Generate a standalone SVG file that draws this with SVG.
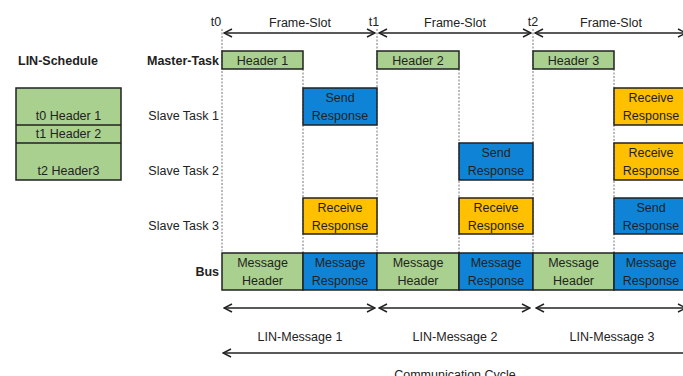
<svg xmlns="http://www.w3.org/2000/svg" width="683" height="376" viewBox="0 0 683 376">
  <defs>
    <style>
      text { font-family: "Liberation Sans", Arial, sans-serif; font-size: 12.5px; fill: #222; }
      .b { font-weight: bold; }
      .c { text-anchor: middle; }
      .r { text-anchor: end; }
      .box { stroke: #222; stroke-width: 1.5; }
      .hdr { fill: #A9D08E; }
      .snd { fill: #0F84D6; }
      .rcv { fill: #FFC000; }
      .guide { stroke: #777; stroke-width: 1; stroke-dasharray: 2 1.5; fill: none; }
      .arr { stroke: #222; stroke-width: 1.3; fill: none; }
    </style>
    <marker id="head" viewBox="0 0 10 10" refX="9" refY="5" markerWidth="10" markerHeight="10" markerUnits="userSpaceOnUse" orient="auto-start-reverse">
      <path d="M1,1 L9,5 L1,9" fill="none" stroke="#222" stroke-width="1.5"/>
    </marker>
  </defs>

  <rect width="683" height="376" fill="#fff"/>

  <!-- schedule table -->
  <g id="schedule">
    <text class="b" x="18" y="65">LIN-Schedule</text>
    <rect class="box hdr" x="16" y="88" width="105" height="92"/>
    <line x1="16" y1="125" x2="121" y2="125" stroke="#222" stroke-width="1.5"/>
    <line x1="16" y1="143" x2="121" y2="143" stroke="#222" stroke-width="1.5"/>
    <text class="c" x="68.5" y="120">t0 Header 1</text>
    <text class="c" x="68.5" y="138">t1 Header 2</text>
    <text class="c" x="68.5" y="175">t2 Header3</text>
  </g>

  <!-- row labels -->
  <g id="row-labels">
    <text class="b r" x="219" y="65">Master-Task</text>
    <text class="r" x="219" y="120">Slave Task 1</text>
    <text class="r" x="219" y="175">Slave Task 2</text>
    <text class="r" x="219" y="230">Slave Task 3</text>
    <text class="b r" x="219" y="276">Bus</text>
  </g>

  <!-- time labels -->
  <g id="time-labels">
    <text class="c" x="216" y="26">t0</text>
    <text class="c" x="374" y="26">t1</text>
    <text class="c" x="533" y="26">t2</text>
    <text class="c" x="300" y="27">Frame-Slot</text>
    <text class="c" x="455" y="27">Frame-Slot</text>
    <text class="c" x="611" y="27">Frame-Slot</text>
  </g>

  <!-- guide lines and arrows -->
  <g id="connectors">
    <line class="guide" x1="222" y1="29" x2="222" y2="253"/>
    <line class="guide" x1="303" y1="69" x2="303" y2="253"/>
    <line class="guide" x1="377" y1="29" x2="377" y2="253"/>
    <line class="guide" x1="459" y1="69" x2="459" y2="253"/>
    <line class="guide" x1="533" y1="29" x2="533" y2="253"/>
    <line class="guide" x1="614" y1="69" x2="614" y2="253"/>

    <line class="arr" x1="224" y1="33" x2="375" y2="33" marker-start="url(#head)" marker-end="url(#head)"/>
    <line class="arr" x1="379" y1="33" x2="531" y2="33" marker-start="url(#head)" marker-end="url(#head)"/>
    <line class="arr" x1="535" y1="33" x2="686" y2="33" marker-start="url(#head)" marker-end="url(#head)"/>

    <line class="arr" x1="224" y1="308" x2="375" y2="308" marker-start="url(#head)" marker-end="url(#head)"/>
    <line class="arr" x1="379" y1="308" x2="530" y2="308" marker-start="url(#head)" marker-end="url(#head)"/>
    <line class="arr" x1="536" y1="308" x2="686" y2="308" marker-start="url(#head)" marker-end="url(#head)"/>

    <line class="arr" x1="223" y1="353" x2="690" y2="353" marker-start="url(#head)"/>
  </g>

  <!-- master task headers -->
  <g id="header-1"><rect class="box hdr" x="222" y="51" width="81" height="18"/><text class="c" x="262.5" y="65">Header 1</text></g>
  <g id="header-2"><rect class="box hdr" x="377" y="51" width="82" height="18"/><text class="c" x="418" y="65">Header 2</text></g>
  <g id="header-3"><rect class="box hdr" x="533" y="51" width="81" height="18"/><text class="c" x="573.5" y="65">Header 3</text></g>

  <!-- slave task 1 -->
  <g id="s1-send"><rect class="box snd" x="303" y="88" width="74" height="37"/><text class="c" x="340" y="102">Send</text><text class="c" x="340" y="120">Response</text></g>
  <g id="s1-recv"><rect class="box rcv" x="614" y="88" width="74" height="37"/><text class="c" x="651" y="102">Receive</text><text class="c" x="651" y="120">Response</text></g>

  <!-- slave task 2 -->
  <g id="s2-send"><rect class="box snd" x="459" y="143" width="74" height="37"/><text class="c" x="496" y="157">Send</text><text class="c" x="496" y="175">Response</text></g>
  <g id="s2-recv"><rect class="box rcv" x="614" y="143" width="74" height="37"/><text class="c" x="651" y="157">Receive</text><text class="c" x="651" y="175">Response</text></g>

  <!-- slave task 3 -->
  <g id="s3-recv-1"><rect class="box rcv" x="303" y="198" width="74" height="36"/><text class="c" x="340" y="212">Receive</text><text class="c" x="340" y="230">Response</text></g>
  <g id="s3-recv-2"><rect class="box rcv" x="459" y="198" width="74" height="36"/><text class="c" x="496" y="212">Receive</text><text class="c" x="496" y="230">Response</text></g>
  <g id="s3-send"><rect class="box snd" x="614" y="198" width="74" height="36"/><text class="c" x="651" y="212">Send</text><text class="c" x="651" y="230">Response</text></g>

  <!-- bus -->
  <g id="bus-h1"><rect class="box hdr" x="222" y="253" width="81" height="37"/><text class="c" x="262.5" y="267">Message</text><text class="c" x="262.5" y="285">Header</text></g>
  <g id="bus-r1"><rect class="box snd" x="303" y="253" width="74" height="37"/><text class="c" x="340" y="267">Message</text><text class="c" x="340" y="285">Response</text></g>
  <g id="bus-h2"><rect class="box hdr" x="377" y="253" width="82" height="37"/><text class="c" x="418" y="267">Message</text><text class="c" x="418" y="285">Header</text></g>
  <g id="bus-r2"><rect class="box snd" x="459" y="253" width="74" height="37"/><text class="c" x="496" y="267">Message</text><text class="c" x="496" y="285">Response</text></g>
  <g id="bus-h3"><rect class="box hdr" x="533" y="253" width="81" height="37"/><text class="c" x="573.5" y="267">Message</text><text class="c" x="573.5" y="285">Header</text></g>
  <g id="bus-r3"><rect class="box snd" x="614" y="253" width="74" height="37"/><text class="c" x="651" y="267">Message</text><text class="c" x="651" y="285">Response</text></g>

  <!-- message and cycle labels -->
  <g id="span-labels">
    <text class="c" x="300" y="341">LIN-Message 1</text>
    <text class="c" x="455" y="341">LIN-Message 2</text>
    <text class="c" x="612" y="341">LIN-Message 3</text>
    <text class="c" x="455" y="379">Communication Cycle</text>
  </g>
</svg>
